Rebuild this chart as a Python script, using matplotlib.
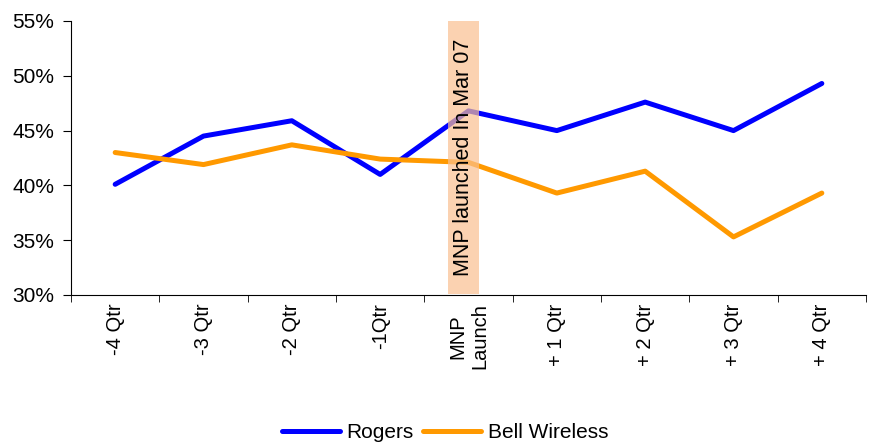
import numpy as np
import matplotlib.pyplot as plt
from matplotlib.ticker import PercentFormatter

plt.rcParams['font.family'] = ['Liberation Sans', 'DejaVu Sans']

categories = ['-4 Qtr', '-3 Qtr', '-2 Qtr', '-1Qtr', 'MNP\nLaunch',
              '+ 1 Qtr', '+ 2 Qtr', '+ 3 Qtr', '+ 4 Qtr']
rogers = [40.1, 44.5, 45.9, 41.0, 46.8, 45.0, 47.6, 45.0, 49.3]
bell = [43.0, 41.9, 43.7, 42.4, 42.1, 39.3, 41.3, 35.3, 39.3]

fig = plt.figure(figsize=(8.69, 4.45), dpi=100)
ax = fig.add_axes([71/869, 150/445, 795/869, 274/445])

x = np.arange(len(categories))
ax.plot(x, rogers, color='#0000FF', lw=3.6, label='Rogers', solid_capstyle='round', zorder=2)
ax.plot(x, bell, color='#FF9900', lw=3.6, label='Bell Wireless', solid_capstyle='round', zorder=2)

# launch marker box
ax.axvspan(3.77, 4.12, ymin=0.005, ymax=1.0, color='#FAC090', alpha=0.7, lw=0, zorder=3)
ax.text(3.94, 42.6, 'MNP launched In Mar 07', rotation=90, ha='center', va='center',
        fontsize=15.5, zorder=4)

ax.set_xlim(-0.5, 8.5)
ax.set_ylim(30, 55)
ax.set_yticks(np.arange(30, 56, 5))
ax.yaxis.set_major_formatter(PercentFormatter(decimals=0))
ax.set_xticks(x)
ax.set_xticklabels(categories, rotation=90, fontsize=14.5)
ax.set_xticks(np.arange(-0.5, 9, 1), minor=True)
ax.tick_params(axis='x', which='major', length=0, pad=6)
ax.tick_params(axis='x', which='minor', length=5, direction='out')
ax.tick_params(axis='y', labelsize=15, length=6, direction='out', pad=6)
ax.spines['top'].set_visible(False)
ax.spines['right'].set_visible(False)

fig.legend(loc='center', bbox_to_anchor=(445/869, 12/445), ncol=2, frameon=False,
           fontsize=15, handlelength=2.8, columnspacing=0.45, handletextpad=0.3)

fig.savefig('out.png', dpi=100)
